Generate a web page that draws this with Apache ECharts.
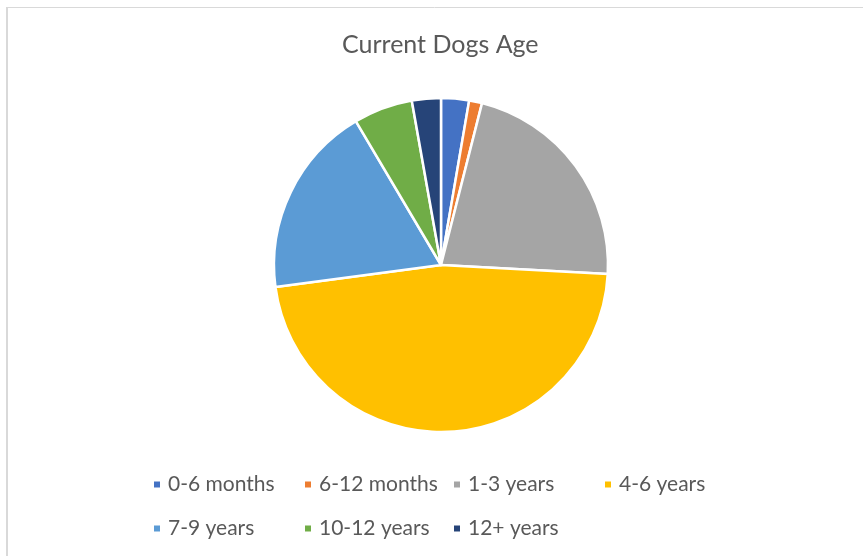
<!DOCTYPE html>
<html>
<head>
<meta charset="utf-8">
<script src="https://cdn.jsdelivr.net/npm/echarts@6/dist/echarts.min.js"></script>
<style>
html,body{margin:0;padding:0;background:#fff;}
#c{width:863px;height:556px;}
</style>
</head>
<body>
<div id="c"></div>
<script>
const titleText = 'Current Dogs Age';
const categories = ['0-6 months', '6-12 months', '1-3 years', '4-6 years', '7-9 years', '10-12 years', '12+ years'];
const values = [2.7, 1.25, 21.9, 47.0, 18.6, 5.7, 2.8];
const colors = ['#4472C4', '#ED7D31', '#A5A5A5', '#FFC000', '#5B9BD5', '#70AD47', '#264478'];
const legendLeft = [152, 303, 452, 603, 152, 303, 452];
const legendTop = [474, 474, 474, 474, 518, 518, 518];

const FONT = 'Lato';
const chart = echarts.init(document.getElementById('c'), null, {renderer: 'canvas'});

const legends = categories.map((name, i) => ({
  data: [name],
  left: legendLeft[i],
  top: legendTop[i],
  itemWidth: 8,
  itemHeight: 8,
  icon: 'rect',
  selectedMode: false,
  padding: 0,
  textStyle: {color: '#595959', fontSize: 21, fontFamily: FONT, lineHeight: 21, padding: [0, 0, 0, 2]}
}));

chart.setOption({
  animation: false,
  color: colors,
  title: {
    text: titleText,
    left: 342,
    top: 30,
    padding: 0,
    textStyle: {color: '#595959', fontSize: 25, fontWeight: 'normal', fontFamily: FONT, lineHeight: 30}
  },
  legend: legends,
  graphic: [
    {type: 'line', shape: {x1: 6, y1: 7.5, x2: 863, y2: 7.5}, style: {stroke: '#D9D9D9', lineWidth: 1}},
    {type: 'line', shape: {x1: 7, y1: 7, x2: 7, y2: 556}, style: {stroke: '#D9D9D9', lineWidth: 2}}
  ],
  series: [{
    type: 'pie',
    center: [441, 265],
    radius: [0, 167],
    startAngle: 90,
    clockwise: true,
    label: {show: false},
    labelLine: {show: false},
    emphasis: {disabled: true},
    itemStyle: {borderColor: '#fff', borderWidth: 2.5},
    data: categories.map((n, i) => ({name: n, value: values[i]}))
  }]
});
</script>
</body>
</html>
